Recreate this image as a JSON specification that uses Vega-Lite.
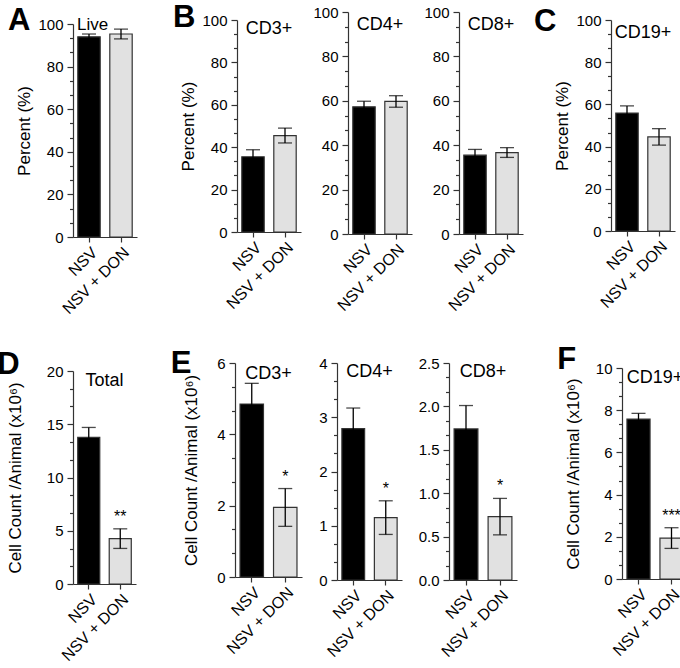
{
  "$schema": "https://vega.github.io/schema/vega-lite/v6.json",
  "padding": {"left": -3, "top": 2, "right": 0, "bottom": 0},
  "spacing": 27,
  "config": {
    "view": {"stroke": null},
    "font": "Liberation Sans",
    "axis": {"grid": false, "domainColor": "#333", "tickColor": "#333", "labelColor": "#000", "titleColor": "#000", "labelFontSize": 15, "titleFontSize": 17, "titleFontWeight": "normal", "labelFont": "Liberation Sans", "titleFont": "Liberation Sans", "domainWidth": 1.2, "tickWidth": 1.2, "labelOverlap": false, "labelPadding": 4},
    "axisX": {"labelFontSize": 16, "labelAngle": -45, "tickSize": 5, "labelPadding": 2, "title": null},
    "title": {"font": "Liberation Sans", "fontWeight": "normal", "fontSize": 18, "color": "#000", "offset": 0, "baseline": "alphabetic"},
    "concat": {"spacing": 10}
  },
  "datasets": {
    "d": [
      {"p": "A", "g": "NSV", "m": 94.0, "e": 1.3, "hi": 95.3, "s": ""},
      {"p": "A", "g": "NSV + DON", "m": 95.3, "e": 2.3, "hi": 97.6, "s": ""},
      {"p": "B3", "g": "NSV", "m": 35.5, "e": 3.3, "hi": 38.8, "s": ""},
      {"p": "B3", "g": "NSV + DON", "m": 45.5, "e": 3.5, "hi": 49.0, "s": ""},
      {"p": "B4", "g": "NSV", "m": 57.3, "e": 2.5, "hi": 59.8, "s": ""},
      {"p": "B4", "g": "NSV + DON", "m": 59.7, "e": 2.6, "hi": 62.3, "s": ""},
      {"p": "B8", "g": "NSV", "m": 35.5, "e": 2.6, "hi": 38.1, "s": ""},
      {"p": "B8", "g": "NSV + DON", "m": 36.7, "e": 2.2, "hi": 38.9, "s": ""},
      {"p": "C", "g": "NSV", "m": 55.9, "e": 3.4, "hi": 59.3, "s": ""},
      {"p": "C", "g": "NSV + DON", "m": 44.6, "e": 3.9, "hi": 48.5, "s": ""},
      {"p": "D", "g": "NSV", "m": 13.76, "e": 0.94, "hi": 14.7, "s": ""},
      {"p": "D", "g": "NSV + DON", "m": 4.26, "e": 0.92, "hi": 5.18, "s": "**"},
      {"p": "E3", "g": "NSV", "m": 4.85, "e": 0.58, "hi": 5.43, "s": ""},
      {"p": "E3", "g": "NSV + DON", "m": 1.95, "e": 0.53, "hi": 2.48, "s": "*"},
      {"p": "E4", "g": "NSV", "m": 2.79, "e": 0.38, "hi": 3.17, "s": ""},
      {"p": "E4", "g": "NSV + DON", "m": 1.15, "e": 0.31, "hi": 1.46, "s": "*"},
      {"p": "E8", "g": "NSV", "m": 1.74, "e": 0.27, "hi": 2.01, "s": ""},
      {"p": "E8", "g": "NSV + DON", "m": 0.73, "e": 0.21, "hi": 0.94, "s": "*"},
      {"p": "F", "g": "NSV", "m": 7.58, "e": 0.27, "hi": 7.85, "s": ""},
      {"p": "F", "g": "NSV + DON", "m": 1.94, "e": 0.49, "hi": 2.43, "s": "***"}
    ]
  },
  "vconcat": [
    {
      "spacing": 35,
      "hconcat": [
        {
          "title": {"text": "A", "anchor": "start", "frame": "bounds", "dx": -8, "dy": 29, "fontSize": 31, "fontWeight": "bold"},
          "spacing": 3,
          "vconcat": [
            {"width": 64, "height": 1, "data": {"values": []}, "mark": "point", "encoding": {}},
            {
              "width": 64, "height": 213,
              "title": {"text": "Live", "anchor": "start", "frame": "group", "dx": 4, "dy": 21, "fontSize": 17},
              "data": {"name": "d"},
              "transform": [{"filter": "datum.p == 'A'"}],
              "encoding": {
                "x": {"field": "g", "type": "nominal", "sort": ["NSV", "NSV + DON"], "scale": {"paddingInner": 0.3, "paddingOuter": 0.15}},
                "y": {"field": "m", "type": "quantitative", "scale": {"domain": [0, 100], "nice": false},
                      "axis": {"title": "Percent (%)", "titlePadding": 4, "format": ".4f",
                               "values": [0,6.6667,13.3333,20,26.6667,33.3333,40,46.6667,53.3333,60,66.6667,73.3333,80,86.6667,93.3333,100],
                               "labelExpr": "abs(datum.value/20 - round(datum.value/20)) < 0.01 ? format(datum.value, 'd') : ''",
                               "tickSize": {"condition": {"test": "abs(datum.value/20 - round(datum.value/20)) < 0.01", "value": 6}, "value": 3.5}}}
              },
              "layer": [
                {"mark": {"type": "bar", "stroke": "#333", "strokeWidth": 1.2},
                 "encoding": {"color": {"field": "g", "type": "nominal", "scale": {"domain": ["NSV", "NSV + DON"], "range": ["#000000", "#e1e1e1"]}, "legend": null}}},
                {"mark": {"type": "errorbar", "color": "#000", "thickness": 1.3, "ticks": {"size": 14}},
                 "encoding": {"yError": {"field": "e"}}}
              ]
            }
          ]
        },
        {
          "spacing": 10,
          "hconcat": [
            {
              "title": {"text": "B", "anchor": "start", "frame": "bounds", "dx": -7, "dy": 33, "fontSize": 31, "fontWeight": "bold"},
              "spacing": 11,
              "hconcat": [
                {
                  "spacing": 0,
                  "vconcat": [
                    {"width": 64, "height": 1, "data": {"values": []}, "mark": "point", "encoding": {}},
                    {
                      "width": 64, "height": 212,
                      "title": {"text": "CD3+", "anchor": "middle", "dy": 29},
                      "data": {"name": "d"},
                      "transform": [{"filter": "datum.p == 'B3'"}],
                      "encoding": {
                        "x": {"field": "g", "type": "nominal", "sort": ["NSV", "NSV + DON"], "scale": {"paddingInner": 0.3, "paddingOuter": 0.15}},
                        "y": {"field": "m", "type": "quantitative", "scale": {"domain": [0, 100], "nice": false},
                              "axis": {"title": "Percent (%)", "titlePadding": 4, "format": ".4f",
                                       "values": [0,6.6667,13.3333,20,26.6667,33.3333,40,46.6667,53.3333,60,66.6667,73.3333,80,86.6667,93.3333,100],
                                       "labelExpr": "abs(datum.value/20 - round(datum.value/20)) < 0.01 ? format(datum.value, 'd') : ''",
                                       "tickSize": {"condition": {"test": "abs(datum.value/20 - round(datum.value/20)) < 0.01", "value": 6}, "value": 3.5}}}
                      },
                      "layer": [
                        {"mark": {"type": "bar", "stroke": "#333", "strokeWidth": 1.2},
                         "encoding": {"color": {"field": "g", "type": "nominal", "scale": {"domain": ["NSV", "NSV + DON"], "range": ["#000000", "#e1e1e1"]}, "legend": null}}},
                        {"mark": {"type": "errorbar", "color": "#000", "thickness": 1.3, "ticks": {"size": 14}},
                         "encoding": {"yError": {"field": "e"}}}
                      ]
                    }
                  ]
                },
                {
                  "width": 64, "height": 222,
                  "title": {"text": "CD4+", "anchor": "middle", "dy": 33},
                  "data": {"name": "d"},
                  "transform": [{"filter": "datum.p == 'B4'"}],
                  "encoding": {
                    "x": {"field": "g", "type": "nominal", "sort": ["NSV", "NSV + DON"], "scale": {"paddingInner": 0.3, "paddingOuter": 0.15}},
                    "y": {"field": "m", "type": "quantitative", "scale": {"domain": [0, 100], "nice": false},
                          "axis": {"title": null, "format": ".4f",
                                   "values": [0,6.6667,13.3333,20,26.6667,33.3333,40,46.6667,53.3333,60,66.6667,73.3333,80,86.6667,93.3333,100],
                                   "labelExpr": "abs(datum.value/20 - round(datum.value/20)) < 0.01 ? format(datum.value, 'd') : ''",
                                   "tickSize": {"condition": {"test": "abs(datum.value/20 - round(datum.value/20)) < 0.01", "value": 6}, "value": 3.5}}}
                  },
                  "layer": [
                    {"mark": {"type": "bar", "stroke": "#333", "strokeWidth": 1.2},
                     "encoding": {"color": {"field": "g", "type": "nominal", "scale": {"domain": ["NSV", "NSV + DON"], "range": ["#000000", "#e1e1e1"]}, "legend": null}}},
                    {"mark": {"type": "errorbar", "color": "#000", "thickness": 1.3, "ticks": {"size": 14}},
                     "encoding": {"yError": {"field": "e"}}}
                  ]
                },
                {
                  "width": 64, "height": 222,
                  "title": {"text": "CD8+", "anchor": "middle", "dy": 33},
                  "data": {"name": "d"},
                  "transform": [{"filter": "datum.p == 'B8'"}],
                  "encoding": {
                    "x": {"field": "g", "type": "nominal", "sort": ["NSV", "NSV + DON"], "scale": {"paddingInner": 0.3, "paddingOuter": 0.15}},
                    "y": {"field": "m", "type": "quantitative", "scale": {"domain": [0, 100], "nice": false},
                          "axis": {"title": null, "format": ".4f",
                                   "values": [0,6.6667,13.3333,20,26.6667,33.3333,40,46.6667,53.3333,60,66.6667,73.3333,80,86.6667,93.3333,100],
                                   "labelExpr": "abs(datum.value/20 - round(datum.value/20)) < 0.01 ? format(datum.value, 'd') : ''",
                                   "tickSize": {"condition": {"test": "abs(datum.value/20 - round(datum.value/20)) < 0.01", "value": 6}, "value": 3.5}}}
                  },
                  "layer": [
                    {"mark": {"type": "bar", "stroke": "#333", "strokeWidth": 1.2},
                     "encoding": {"color": {"field": "g", "type": "nominal", "scale": {"domain": ["NSV", "NSV + DON"], "range": ["#000000", "#e1e1e1"]}, "legend": null}}},
                    {"mark": {"type": "errorbar", "color": "#000", "thickness": 1.3, "ticks": {"size": 14}},
                     "encoding": {"yError": {"field": "e"}}}
                  ]
                }
              ]
            },
            {
              "title": {"text": "C", "anchor": "start", "frame": "bounds", "dx": -20, "dy": 30, "fontSize": 31, "fontWeight": "bold"},
              "spacing": 0,
              "vconcat": [
                {"width": 64, "height": 1, "data": {"values": []}, "mark": "point", "encoding": {}},
                {
                  "width": 64, "height": 211,
                  "title": {"text": "CD19+", "anchor": "middle", "dy": 33},
                  "data": {"name": "d"},
                  "transform": [{"filter": "datum.p == 'C'"}],
                  "encoding": {
                    "x": {"field": "g", "type": "nominal", "sort": ["NSV", "NSV + DON"], "scale": {"paddingInner": 0.3, "paddingOuter": 0.15}},
                    "y": {"field": "m", "type": "quantitative", "scale": {"domain": [0, 100], "nice": false},
                          "axis": {"title": "Percent (%)", "titlePadding": 4, "format": ".4f",
                                   "values": [0,6.6667,13.3333,20,26.6667,33.3333,40,46.6667,53.3333,60,66.6667,73.3333,80,86.6667,93.3333,100],
                                   "labelExpr": "abs(datum.value/20 - round(datum.value/20)) < 0.01 ? format(datum.value, 'd') : ''",
                                   "tickSize": {"condition": {"test": "abs(datum.value/20 - round(datum.value/20)) < 0.01", "value": 6}, "value": 3.5}}}
                  },
                  "layer": [
                    {"mark": {"type": "bar", "stroke": "#333", "strokeWidth": 1.2},
                     "encoding": {"color": {"field": "g", "type": "nominal", "scale": {"domain": ["NSV", "NSV + DON"], "range": ["#000000", "#e1e1e1"]}, "legend": null}}},
                    {"mark": {"type": "errorbar", "color": "#000", "thickness": 1.3, "ticks": {"size": 14}},
                     "encoding": {"yError": {"field": "e"}}}
                  ]
                }
              ]
            }
          ]
        }
      ]
    },
    {
      "spacing": 34,
      "hconcat": [
        {
          "title": {"text": "D", "anchor": "start", "frame": "bounds", "dx": -9, "dy": 22, "fontSize": 31, "fontWeight": "bold"},
          "spacing": 0,
          "vconcat": [
            {"width": 63, "height": 1, "data": {"values": []}, "mark": "point", "encoding": {}},
            {
              "width": 63, "height": 213,
              "title": {"text": "Total", "anchor": "middle", "dy": 30},
              "data": {"name": "d"},
              "transform": [{"filter": "datum.p == 'D'"}],
              "encoding": {
                "x": {"field": "g", "type": "nominal", "sort": ["NSV", "NSV + DON"], "scale": {"paddingInner": 0.3, "paddingOuter": 0.15}},
                "y": {"field": "m", "type": "quantitative", "scale": {"domain": [0, 20], "nice": false},
                      "axis": {"title": "Cell Count /Animal (x10⁶)", "titlePadding": 22, "format": ".4f",
                               "values": [0,1.6667,3.3333,5,6.6667,8.3333,10,11.6667,13.3333,15,16.6667,18.3333,20],
                               "labelExpr": "abs(datum.value/5 - round(datum.value/5)) < 0.01 ? format(datum.value, 'd') : ''",
                               "tickSize": {"condition": {"test": "abs(datum.value/5 - round(datum.value/5)) < 0.01", "value": 6}, "value": 3.5}}}
              },
              "layer": [
                {"mark": {"type": "bar", "stroke": "#333", "strokeWidth": 1.2},
                 "encoding": {"color": {"field": "g", "type": "nominal", "scale": {"domain": ["NSV", "NSV + DON"], "range": ["#000000", "#e1e1e1"]}, "legend": null}}},
                {"mark": {"type": "errorbar", "color": "#000", "thickness": 1.3, "ticks": {"size": 14}},
                 "encoding": {"yError": {"field": "e"}}},
                {"mark": {"type": "text", "baseline": "bottom", "dy": -4, "fontSize": 16},
                 "encoding": {"y": {"field": "hi", "type": "quantitative", "scale": {"domain": [0, 20], "nice": false},
                      "axis": {"title": "Cell Count /Animal (x10⁶)", "titlePadding": 22, "format": ".4f",
                               "values": [0,1.6667,3.3333,5,6.6667,8.3333,10,11.6667,13.3333,15,16.6667,18.3333,20],
                               "labelExpr": "abs(datum.value/5 - round(datum.value/5)) < 0.01 ? format(datum.value, 'd') : ''",
                               "tickSize": {"condition": {"test": "abs(datum.value/5 - round(datum.value/5)) < 0.01", "value": 6}, "value": 3.5}}},
                   "text": {"field": "s"}}}
              ]
            }
          ]
        },
        {
          "spacing": 40,
          "hconcat": [
            {
              "title": {"text": "E", "anchor": "start", "frame": "bounds", "dx": -12, "dy": 28, "fontSize": 31, "fontWeight": "bold"},
              "spacing": 16,
              "hconcat": [
                {
                  "width": 67, "height": 214,
                  "title": {"text": "CD3+", "anchor": "middle", "dy": 31},
                  "data": {"name": "d"},
                  "transform": [{"filter": "datum.p == 'E3'"}],
                  "encoding": {
                    "x": {"field": "g", "type": "nominal", "sort": ["NSV", "NSV + DON"], "scale": {"paddingInner": 0.3, "paddingOuter": 0.15}},
                    "y": {"field": "m", "type": "quantitative", "scale": {"domain": [0, 6], "nice": false},
                          "axis": {"title": "Cell Count /Animal (x10⁶)", "titlePadding": 16, "format": ".4f",
                                   "values": [0,0.6667,1.3333,2,2.6667,3.3333,4,4.6667,5.3333,6],
                                   "labelExpr": "abs(datum.value/2 - round(datum.value/2)) < 0.01 ? format(datum.value, 'd') : ''",
                                   "tickSize": {"condition": {"test": "abs(datum.value/2 - round(datum.value/2)) < 0.01", "value": 6}, "value": 3.5}}}
                  },
                  "layer": [
                    {"mark": {"type": "bar", "stroke": "#333", "strokeWidth": 1.2},
                     "encoding": {"color": {"field": "g", "type": "nominal", "scale": {"domain": ["NSV", "NSV + DON"], "range": ["#000000", "#e1e1e1"]}, "legend": null}}},
                    {"mark": {"type": "errorbar", "color": "#000", "thickness": 1.3, "ticks": {"size": 14}},
                     "encoding": {"yError": {"field": "e"}}},
                    {"mark": {"type": "text", "baseline": "bottom", "dy": -4, "fontSize": 16},
                     "encoding": {"y": {"field": "hi", "type": "quantitative", "scale": {"domain": [0, 6], "nice": false},
                          "axis": {"title": "Cell Count /Animal (x10⁶)", "titlePadding": 16, "format": ".4f",
                                   "values": [0,0.6667,1.3333,2,2.6667,3.3333,4,4.6667,5.3333,6],
                                   "labelExpr": "abs(datum.value/2 - round(datum.value/2)) < 0.01 ? format(datum.value, 'd') : ''",
                                   "tickSize": {"condition": {"test": "abs(datum.value/2 - round(datum.value/2)) < 0.01", "value": 6}, "value": 3.5}}},
                       "text": {"field": "s"}}}
                  ]
                },
                {
                  "width": 65, "height": 217,
                  "title": {"text": "CD4+", "anchor": "middle", "dy": 29},
                  "data": {"name": "d"},
                  "transform": [{"filter": "datum.p == 'E4'"}],
                  "encoding": {
                    "x": {"field": "g", "type": "nominal", "sort": ["NSV", "NSV + DON"], "scale": {"paddingInner": 0.3, "paddingOuter": 0.15}},
                    "y": {"field": "m", "type": "quantitative", "scale": {"domain": [0, 4], "nice": false},
                          "axis": {"title": null, "format": ".4f",
                                   "values": [0,0.3333,0.6667,1,1.3333,1.6667,2,2.3333,2.6667,3,3.3333,3.6667,4],
                                   "labelExpr": "abs(datum.value - round(datum.value)) < 0.01 ? format(datum.value, 'd') : ''",
                                   "tickSize": {"condition": {"test": "abs(datum.value - round(datum.value)) < 0.01", "value": 6}, "value": 3.5}}}
                  },
                  "layer": [
                    {"mark": {"type": "bar", "stroke": "#333", "strokeWidth": 1.2},
                     "encoding": {"color": {"field": "g", "type": "nominal", "scale": {"domain": ["NSV", "NSV + DON"], "range": ["#000000", "#e1e1e1"]}, "legend": null}}},
                    {"mark": {"type": "errorbar", "color": "#000", "thickness": 1.3, "ticks": {"size": 14}},
                     "encoding": {"yError": {"field": "e"}}},
                    {"mark": {"type": "text", "baseline": "bottom", "dy": -4, "fontSize": 16},
                     "encoding": {"y": {"field": "hi", "type": "quantitative", "scale": {"domain": [0, 4], "nice": false},
                          "axis": {"title": null, "format": ".4f",
                                   "values": [0,0.3333,0.6667,1,1.3333,1.6667,2,2.3333,2.6667,3,3.3333,3.6667,4],
                                   "labelExpr": "abs(datum.value - round(datum.value)) < 0.01 ? format(datum.value, 'd') : ''",
                                   "tickSize": {"condition": {"test": "abs(datum.value - round(datum.value)) < 0.01", "value": 6}, "value": 3.5}}},
                       "text": {"field": "s"}}}
                  ]
                },
                {
                  "width": 68, "height": 217,
                  "title": {"text": "CD8+", "anchor": "middle", "dy": 29},
                  "data": {"name": "d"},
                  "transform": [{"filter": "datum.p == 'E8'"}],
                  "encoding": {
                    "x": {"field": "g", "type": "nominal", "sort": ["NSV", "NSV + DON"], "scale": {"paddingInner": 0.3, "paddingOuter": 0.15}},
                    "y": {"field": "m", "type": "quantitative", "scale": {"domain": [0, 2.5], "nice": false},
                          "axis": {"title": null, "format": ".4f",
                                   "values": [0,0.1667,0.3333,0.5,0.6667,0.8333,1,1.1667,1.3333,1.5,1.6667,1.8333,2,2.1667,2.3333,2.5],
                                   "labelExpr": "abs(datum.value/0.5 - round(datum.value/0.5)) < 0.01 ? format(datum.value, '.1f') : ''",
                                   "tickSize": {"condition": {"test": "abs(datum.value/0.5 - round(datum.value/0.5)) < 0.01", "value": 6}, "value": 3.5}}}
                  },
                  "layer": [
                    {"mark": {"type": "bar", "stroke": "#333", "strokeWidth": 1.2},
                     "encoding": {"color": {"field": "g", "type": "nominal", "scale": {"domain": ["NSV", "NSV + DON"], "range": ["#000000", "#e1e1e1"]}, "legend": null}}},
                    {"mark": {"type": "errorbar", "color": "#000", "thickness": 1.3, "ticks": {"size": 14}},
                     "encoding": {"yError": {"field": "e"}}},
                    {"mark": {"type": "text", "baseline": "bottom", "dy": -4, "fontSize": 16},
                     "encoding": {"y": {"field": "hi", "type": "quantitative", "scale": {"domain": [0, 2.5], "nice": false},
                          "axis": {"title": null, "format": ".4f",
                                   "values": [0,0.1667,0.3333,0.5,0.6667,0.8333,1,1.1667,1.3333,1.5,1.6667,1.8333,2,2.1667,2.3333,2.5],
                                   "labelExpr": "abs(datum.value/0.5 - round(datum.value/0.5)) < 0.01 ? format(datum.value, '.1f') : ''",
                                   "tickSize": {"condition": {"test": "abs(datum.value/0.5 - round(datum.value/0.5)) < 0.01", "value": 6}, "value": 3.5}}},
                       "text": {"field": "s"}}}
                  ]
                }
              ]
            },
            {
              "title": {"text": "F", "anchor": "start", "frame": "bounds", "dx": -7, "dy": 19, "fontSize": 31, "fontWeight": "bold"},
              "spacing": -3,
              "vconcat": [
                {"width": 66, "height": 1, "data": {"values": []}, "mark": "point", "encoding": {}},
                {
                  "width": 66, "height": 211,
                  "title": {"text": "CD19+", "anchor": "middle", "dy": 30},
                  "data": {"name": "d"},
                  "transform": [{"filter": "datum.p == 'F'"}],
                  "encoding": {
                    "x": {"field": "g", "type": "nominal", "sort": ["NSV", "NSV + DON"], "scale": {"paddingInner": 0.3, "paddingOuter": 0.15}},
                    "y": {"field": "m", "type": "quantitative", "scale": {"domain": [0, 10], "nice": false},
                          "axis": {"title": "Cell Count /Animal (x10⁶)", "titlePadding": 13, "format": ".4f",
                                   "values": [0,0.6667,1.3333,2,2.6667,3.3333,4,4.6667,5.3333,6,6.6667,7.3333,8,8.6667,9.3333,10],
                                   "labelExpr": "abs(datum.value/2 - round(datum.value/2)) < 0.01 ? format(datum.value, 'd') : ''",
                                   "tickSize": {"condition": {"test": "abs(datum.value/2 - round(datum.value/2)) < 0.01", "value": 6}, "value": 3.5}}}
                  },
                  "layer": [
                    {"mark": {"type": "bar", "stroke": "#333", "strokeWidth": 1.2},
                     "encoding": {"color": {"field": "g", "type": "nominal", "scale": {"domain": ["NSV", "NSV + DON"], "range": ["#000000", "#e1e1e1"]}, "legend": null}}},
                    {"mark": {"type": "errorbar", "color": "#000", "thickness": 1.3, "ticks": {"size": 14}},
                     "encoding": {"yError": {"field": "e"}}},
                    {"mark": {"type": "text", "baseline": "bottom", "dy": -4, "fontSize": 16},
                     "encoding": {"y": {"field": "hi", "type": "quantitative", "scale": {"domain": [0, 10], "nice": false},
                          "axis": {"title": "Cell Count /Animal (x10⁶)", "titlePadding": 13, "format": ".4f",
                                   "values": [0,0.6667,1.3333,2,2.6667,3.3333,4,4.6667,5.3333,6,6.6667,7.3333,8,8.6667,9.3333,10],
                                   "labelExpr": "abs(datum.value/2 - round(datum.value/2)) < 0.01 ? format(datum.value, 'd') : ''",
                                   "tickSize": {"condition": {"test": "abs(datum.value/2 - round(datum.value/2)) < 0.01", "value": 6}, "value": 3.5}}},
                       "text": {"field": "s"}}}
                  ]
                }
              ]
            }
          ]
        }
      ]
    }
  ]
}
